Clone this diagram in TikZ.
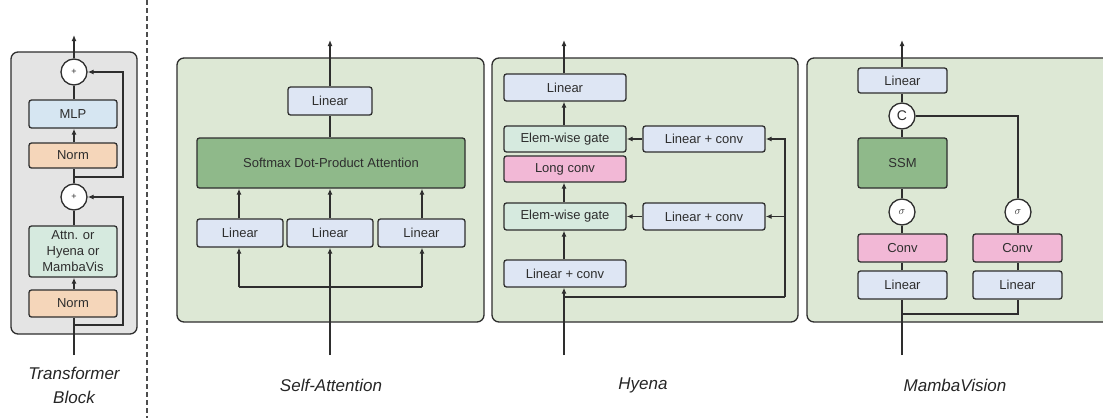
\documentclass[tikz,border=0pt]{standalone}
\usepackage{fontspec}
\setmainfont{Liberation Sans}
\usetikzlibrary{arrows.meta,calc}
\definecolor{edge}{HTML}{2E2E2E}
\definecolor{tbfill}{HTML}{E4E4E4}
\definecolor{panelfill}{HTML}{DDE8D5}
\definecolor{linfill}{HTML}{DEE6F4}
\definecolor{mlpfill}{HTML}{D6E6F2}
\definecolor{normfill}{HTML}{F5D6BA}
\definecolor{gatefill}{HTML}{D6EADF}
\definecolor{darkg}{HTML}{8FB98A}
\definecolor{pinkf}{HTML}{F2B8D6}
\tikzset{
  panel/.style={draw=edge, line width=1.3pt, rounded corners=7pt},
  blk/.style={draw=edge, line width=1.3pt, rounded corners=2.5pt, inner sep=0pt, text=edge,
    font=\fontsize{13}{16}\selectfont, align=center},
  opc/.style={circle, draw=edge, line width=1.3pt, fill=white, inner sep=0pt, minimum size=26pt, text=edge},
  wire/.style={draw=edge, line width=1.3pt},
  arr/.style={wire, -{Latex[length=6pt,width=5pt]}},
  captxt/.style={font=\itshape\fontsize{17}{24}\selectfont, align=center, text=black!85}
}
\begin{document}
\begin{tikzpicture}[x=1pt,y=-1pt]
\useasboundingbox (0,0) rectangle (1103,418);
\fill[white] (0,0) rectangle (1103,418);
\begin{scope}
\clip (0,0) rectangle (1103,418);
% ---------------- Transformer block ----------------
\draw[panel, fill=tbfill] (11,52) rectangle (137,334);
\node[opc, font=\fontsize{9}{9}\selectfont] (tc1) at (74,72) {+};
\node[blk, fill=mlpfill, minimum width=88pt, minimum height=28pt] (mlp) at (73,114) {MLP};
\node[blk, fill=normfill, minimum width=88pt, minimum height=25pt] (norm2) at (73,155.5) {Norm};
\node[opc, font=\fontsize{9}{9}\selectfont] (tc2) at (74,197) {+};
\node[blk, fill=gatefill, minimum width=88pt, minimum height=51pt] (attn) at (73,251.5) {Attn. or\\Hyena or\\MambaVis};
\node[blk, fill=normfill, minimum width=88pt, minimum height=27pt] (norm1) at (73,303.5) {Norm};
\coordinate (tin) at (74,355);
\coordinate (tout) at (74,35);
\coordinate (tr1) at (74,325);
\coordinate (tr2) at (74,177);
\draw[wire] (tin) -- (tin |- norm1.south);
\draw[arr] (norm1.north -| tin) -- (tin |- attn.south);
\draw[wire] (attn.north -| tin) -- (tc2.south);
\draw[wire] (tc2.north) -- (tin |- norm2.south);
\draw[arr] (norm2.north -| tin) -- (tin |- mlp.south);
\draw[wire] (mlp.north -| tin) -- (tc1.south);
\draw[arr] (tc1.north) -- (tout);
\draw[arr] (tr1) -- (123,325) -- (123,197) -- (tc2.east);
\draw[arr] (tr2) -- (123,177) -- (123,72) -- (tc1.east);
\node[captxt] (tlab) at (74,385) {Transformer\\Block};
% dashed separator
\coordinate (dtop) at (147,0);
\coordinate (dbot) at (147,418);
\draw[draw=edge!85, line width=1.2pt, dash pattern=on 5pt off 3pt] (dtop) -- (dbot);
% ---------------- Self-Attention ----------------
\draw[panel, fill=panelfill] (177,58) rectangle (484,322);
\node[blk, fill=linfill, minimum width=84pt, minimum height=28pt] (salin) at (330,101) {Linear};
\node[blk, fill=darkg, minimum width=268pt, minimum height=50pt] (soft) at (331,163) {Softmax Dot-Product Attention};
\node[blk, fill=linfill, minimum width=86pt, minimum height=28pt] (l1) at (240,233) {Linear};
\node[blk, fill=linfill, minimum width=86pt, minimum height=28pt] (l2) at (330,233) {Linear};
\node[blk, fill=linfill, minimum width=87pt, minimum height=28pt] (l3) at (421.5,233) {Linear};
\coordinate (sin) at (330,355);
\coordinate (sout) at (330,40);
\coordinate (sb1) at (239,287);
\coordinate (sb3) at (422,287);
\draw[arr] (sin) -- (l2.south);
\draw[wire] (sb1) -- (sb3);
\draw[arr] (sb1) -- (sb1 |- l1.south);
\draw[arr] (sb3) -- (sb3 |- l3.south);
\draw[arr] (sb1 |- l1.north) -- (sb1 |- soft.south);
\draw[arr] (l2.north) -- (l2.north |- soft.south);
\draw[arr] (sb3 |- l3.north) -- (sb3 |- soft.south);
\draw[wire] (salin.south |- soft.north) -- (salin.south);
\draw[arr] (salin.north) -- (sout);
\node[captxt] (salab) at (331,385) {Self-Attention};
% ---------------- Hyena ----------------
\draw[panel, fill=panelfill] (492,58) rectangle (798,322);
\node[blk, fill=linfill, minimum width=122pt, minimum height=27pt] (hlin) at (565,87.5) {Linear};
\node[blk, fill=gatefill, minimum width=122pt, minimum height=26pt] (g1) at (565,139) {Elem-wise gate};
\node[blk, fill=pinkf, minimum width=122pt, minimum height=26pt] (lc) at (565,169) {Long conv};
\node[blk, fill=gatefill, minimum width=122pt, minimum height=27pt] (g2) at (565,216.5) {Elem-wise gate};
\node[blk, fill=linfill, minimum width=122pt, minimum height=27pt] (hlc) at (565,273.5) {Linear + conv};
\node[blk, fill=linfill, minimum width=122pt, minimum height=26pt] (r1) at (704,139) {Linear + conv};
\node[blk, fill=linfill, minimum width=122pt, minimum height=27pt] (r2) at (704,216.5) {Linear + conv};
\coordinate (hin) at (564,355);
\coordinate (hout) at (564,40);
\coordinate (hb) at (564,297);
\coordinate (hc) at (785,297);
\coordinate (hr2) at (785,216.5);
\draw[arr] (hin) -- (hin |- hlc.south);
\draw[wire] (hb) -- (hc);
\draw[arr] (hc) |- (r1.east);
\draw[arr] (hr2) -- (r2.east);
\draw[arr] (r1.west) -- (g1.east);
\draw[arr] (r2.west) -- (g2.east);
\draw[arr] (hin |- hlc.north) -- (hin |- g2.south);
\draw[arr] (hin |- g2.north) -- (hin |- lc.south);
\draw[arr] (hin |- g1.north) -- (hin |- hlin.south);
\draw[arr] (hin |- hlin.north) -- (hout);
\node[captxt] (hylab) at (643,385) {Hyena};
% ---------------- MambaVision ----------------
\draw[panel, fill=panelfill] (807,58) rectangle (1125,322);
\node[blk, fill=linfill, minimum width=89pt, minimum height=25pt] (mlin) at (902.5,80.5) {Linear};
\node[opc, font=\fontsize{14}{14}\selectfont] (mc) at (902,116) {C};
\node[blk, fill=darkg, minimum width=89pt, minimum height=50pt] (ssm) at (902.5,163) {SSM};
\node[opc, font=\fontsize{11}{11}\selectfont] (s1) at (902,212) {$\sigma$};
\node[blk, fill=pinkf, minimum width=89pt, minimum height=28pt] (cv1) at (902.5,248) {Conv};
\node[blk, fill=linfill, minimum width=89pt, minimum height=28pt] (ml1) at (902.5,285) {Linear};
\node[opc, font=\fontsize{11}{11}\selectfont] (s2) at (1018,212) {$\sigma$};
\node[blk, fill=pinkf, minimum width=89pt, minimum height=28pt] (cv2) at (1017.5,248) {Conv};
\node[blk, fill=linfill, minimum width=89pt, minimum height=28pt] (ml2) at (1017.5,285) {Linear};
\coordinate (min) at (902,355);
\coordinate (mout) at (902,40);
\coordinate (mb) at (902,314);
\coordinate (mc2) at (1018,314);
\coordinate (mtop) at (1018,116);
\draw[wire] (min) -- (min |- ml1.south);
\draw[wire] (min |- ml1.north) -- (min |- cv1.south);
\draw[wire] (min |- cv1.north) -- (s1.south);
\draw[wire] (s1.north) -- (min |- ssm.south);
\draw[wire] (min |- ssm.north) -- (mc.south);
\draw[wire] (mc.north) -- (min |- mlin.south);
\draw[arr] (min |- mlin.north) -- (mout);
\draw[wire] (mb) -- (mc2) -- (mc2 |- ml2.south);
\draw[wire] (mc2 |- ml2.north) -- (mc2 |- cv2.south);
\draw[wire] (mc2 |- cv2.north) -- (s2.south);
\draw[wire] (s2.north) -- (mtop) -- (mc.east);
\node[captxt] (mvlab) at (955,385) {MambaVision};
\end{scope}
\end{tikzpicture}
\end{document}
